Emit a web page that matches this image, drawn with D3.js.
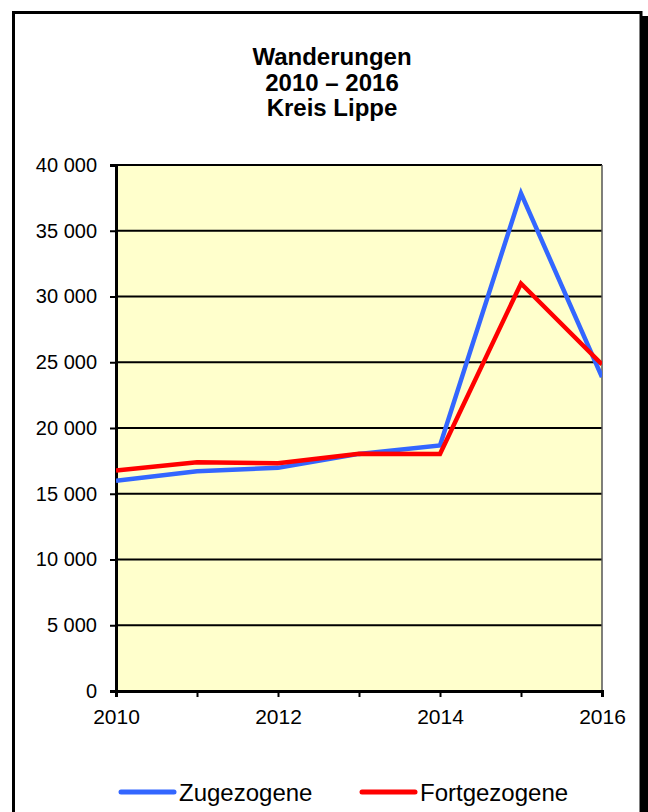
<!DOCTYPE html>
<html>
<head>
<meta charset="utf-8">
<script src="https://cdn.jsdelivr.net/npm/d3@7"></script>
<style>
  html, body { margin: 0; padding: 0; background: #fff; }
  svg { display: block; font-family: "Liberation Sans", Arial, sans-serif; }
</style>
</head>
<body>
<div id="chart"></div>
<script>
// data
const years = [2010, 2011, 2012, 2013, 2014, 2015, 2016]
const zugezogene = [15980, 16710, 16970, 18030, 18670, 37840, 23870]
const fortgezogene = [16760, 17390, 17320, 18050, 18030, 30990, 24840]
const seriesNames = ["Zugezogene", "Fortgezogene"]
const seriesColors = ["#3366ff", "#ff0000"]
const titleLines = ["Wanderungen", "2010 – 2016", "Kreis Lippe"]
const yTicks = [0, 5000, 10000, 15000, 20000, 25000, 30000, 35000, 40000]
const xLabels = [2010, 2012, 2014, 2016]

const width = 648
const height = 812
const margin = { top: 165, right: 46, bottom: 121, left: 116 }

const svg = d3.select("#chart")
  .append("svg")
  .attr("width", width)
  .attr("height", height)

// frame + shadow
svg.append("rect")
  .attr("x", 642).attr("y", 16)
  .attr("width", 6).attr("height", height)
  .attr("fill", "#000")
svg.append("rect")
  .attr("x", 13.5).attr("y", 12.5)
  .attr("width", 627.5).attr("height", height)
  .attr("fill", "#fff")
  .attr("stroke", "#000")
  .attr("stroke-width", 3)

// title
svg.append("g")
  .selectAll("text")
  .data(titleLines)
  .enter()
  .append("text")
  .attr("x", 332)
  .attr("y", (d, i) => 65 + i * 25.5)
  .attr("text-anchor", "middle")
  .attr("font-weight", "bold")
  .attr("font-size", 24)
  .attr("fill", "#000")
  .text(d => d)

const x = d3.scaleLinear()
  .domain([2010, 2016])
  .range([margin.left, width - margin.right])

const y = d3.scaleLinear()
  .domain([0, 40000])
  .range([height - margin.bottom, margin.top])

const fmt = v => d3.format(",")(v).replace(/,/g, " ")

// plot background
svg.append("rect")
  .attr("x", x(2010)).attr("y", y(40000))
  .attr("width", x(2016) - x(2010))
  .attr("height", y(0) - y(40000))
  .attr("fill", "#ffffcc")

// gridlines
svg.append("g")
  .selectAll("line")
  .data(yTicks.filter(d => d > 0))
  .enter()
  .append("line")
  .attr("x1", x(2010)).attr("x2", x(2016))
  .attr("y1", d => y(d)).attr("y2", d => y(d))
  .attr("stroke", "#000")
  .attr("stroke-width", 2)

// right border of plot
svg.append("line")
  .attr("x1", x(2016)).attr("x2", x(2016))
  .attr("y1", y(40000)).attr("y2", y(0))
  .attr("stroke", "#555")
  .attr("stroke-width", 1.5)

// y axis
const yAxis = svg.append("g")
  .attr("transform", `translate(${x(2010)},0)`)
  .call(d3.axisLeft(y).tickValues(yTicks).tickFormat(fmt).tickSize(6).tickPadding(13))
yAxis.select(".domain").attr("stroke", "#000").attr("stroke-width", 3)
yAxis.selectAll(".tick line").attr("stroke", "#000").attr("stroke-width", 2)
yAxis.selectAll(".tick text")
  .attr("font-size", 20)
  .attr("font-family", "Liberation Sans, Arial, sans-serif")
  .attr("fill", "#000")

// x axis
const xAxis = svg.append("g")
  .attr("transform", `translate(0,${y(0)})`)
  .call(d3.axisBottom(x).tickValues(years).tickFormat(d => xLabels.includes(d) ? d : "").tickSize(6).tickPadding(12))
xAxis.select(".domain").attr("stroke", "#000").attr("stroke-width", 3)
xAxis.selectAll(".tick line").attr("stroke", "#000").attr("stroke-width", 2)
xAxis.selectAll(".tick text")
  .attr("font-size", 21)
  .attr("font-family", "Liberation Sans, Arial, sans-serif")
  .attr("fill", "#000")

// lines
const line = d3.line()
  .x((d, i) => x(years[i]))
  .y(d => y(d))

const allSeries = [zugezogene, fortgezogene]

svg.append("defs").append("clipPath")
  .attr("id", "plotclip")
  .append("rect")
  .attr("x", x(2010)).attr("y", 0)
  .attr("width", x(2016) - x(2010)).attr("height", height)

svg.append("g")
  .attr("clip-path", "url(#plotclip)")
  .selectAll("path")
  .data(allSeries)
  .enter()
  .append("path")
  .attr("d", d => line(d))
  .attr("fill", "none")
  .attr("stroke", (d, i) => seriesColors[i])
  .attr("stroke-width", 4.5)
  .attr("stroke-linejoin", "miter")

// legend
const legendX = [121, 362]
const legend = svg.append("g")
  .selectAll("g")
  .data(seriesNames)
  .enter()
  .append("g")
  .attr("transform", (d, i) => `translate(${legendX[i]},792)`)

legend.append("line")
  .attr("x1", 0).attr("x2", 53)
  .attr("y1", 0).attr("y2", 0)
  .attr("stroke", (d, i) => seriesColors[i])
  .attr("stroke-width", 5)
  .attr("stroke-linecap", "round")

legend.append("text")
  .attr("x", 58)
  .attr("y", 9)
  .attr("font-size", 24)
  .attr("fill", "#000")
  .text(d => d)
</script>
</body>
</html>
